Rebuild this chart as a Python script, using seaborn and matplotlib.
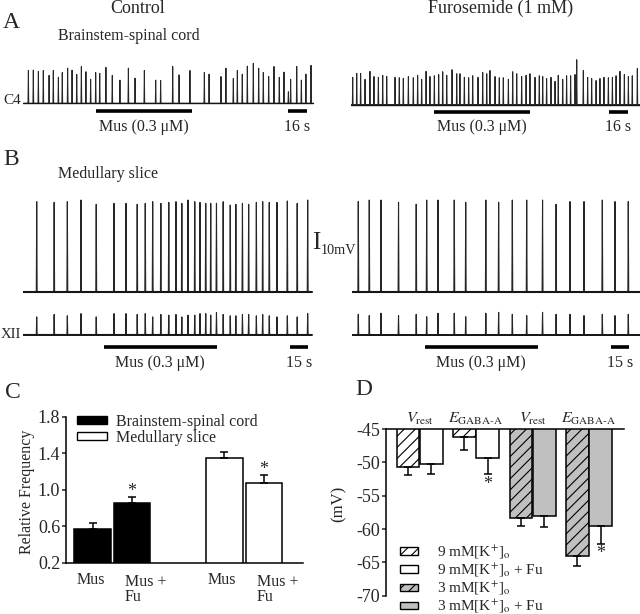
import numpy as np
import pandas as pd
import matplotlib
import matplotlib.pyplot as plt
import seaborn as sns
from matplotlib.patches import Patch

matplotlib.use('Agg')

# ---------------- data ----------------
# A: C4 bursts, brainstem-spinal cord (times in s, amplitude relative)
a_ctrl_t = [4.4, 8.7, 13.1, 17.4, 22.4, 26.1, 30.5, 33.9, 38.6, 42.4,
            46.5, 50.5, 54.5, 58.6, 63.0, 66.5, 71.9, 77.4, 84.1, 91.4,
            97.2, 105.3, 115.2, 119.5, 130.0, 135.5, 145.0, 157.5, 161.6, 172.0,
            176.3, 182.7, 186.2, 190.5, 194.9, 200.1, 204.8, 208.8, 213.5, 218.1,
            222.7, 226.8, 230.6, 232.6, 237.9, 241.9, 245.9, 250.3]
a_ctrl_amp = [0.82, 0.83, 0.80, 0.82, 0.70, 0.82, 0.65, 0.77, 0.88, 0.83,
              0.72, 0.92, 0.79, 0.60, 0.77, 0.75, 0.90, 0.70, 0.58, 0.88,
              0.63, 0.82, 0.58, 0.57, 0.92, 0.71, 0.82, 0.77, 0.73, 0.67,
              0.88, 0.62, 0.82, 0.73, 0.93, 1.00, 0.88, 0.77, 0.67, 0.92,
              0.65, 0.78, 0.29, 0.60, 0.92, 0.58, 0.73, 0.95]
a_furo_t = [1.5, 5.0, 8.4, 12.2, 16.5, 20.0, 23.8, 27.6, 31.1, 38.3,
            42.0, 45.5, 49.9, 54.2, 58.0, 61.5, 65.3, 68.7, 72.5, 76.3,
            79.8, 83.3, 87.9, 92.0, 94.8, 98.6, 102.4, 105.9, 110.5, 114.6,
            118.1, 120.9, 125.3, 129.0, 132.5, 136.9, 140.7, 144.2, 148.5, 152.3,
            155.7, 160.1, 163.8, 166.8, 170.2, 174.0, 177.5, 180.3, 184.2, 187.6,
            191.1, 194.9, 196.4, 202.1, 205.9, 209.4, 213.2, 216.6, 220.1, 223.9,
            227.4, 230.6, 234.0, 237.8, 241.3, 244.7, 249.1]
a_furo_amp = [0.68, 0.78, 0.78, 0.63, 0.83, 0.70, 0.68, 0.73, 0.70, 0.68,
              0.67, 0.65, 0.70, 0.67, 0.73, 0.63, 0.83, 0.70, 0.72, 0.75,
              0.82, 0.73, 0.87, 0.77, 0.77, 0.68, 0.67, 0.72, 0.68, 0.80,
              0.77, 0.85, 0.70, 0.67, 0.67, 0.63, 0.82, 0.77, 0.70, 0.73,
              0.77, 0.68, 0.72, 0.70, 0.65, 0.68, 0.58, 0.73, 0.63, 0.72,
              0.72, 0.75, 1.12, 0.85, 0.68, 0.65, 0.60, 0.65, 0.68, 0.67,
              0.68, 0.72, 0.83, 0.75, 0.70, 0.72, 0.90]
a_duration = [252.0, 251.4]
a_mus = [(63.0, 147.0), (72.5, 155.7)]
a_scale = [(230.6, 16), (224.7, 16)]

# B: medullary slice, membrane potential (mV) and XII output (relative)
b_ctrl_t = [11.0, 25.3, 36.1, 47.3, 59.8, 74.4, 84.2, 93.4, 100.0, 106.1,
            112.8, 119.3, 125.2, 130.0, 135.1, 140.6, 144.9, 149.6, 153.7, 158.4,
            163.9, 169.7, 174.3, 179.7, 184.8, 191.1, 196.3, 201.7, 208.0, 216.5,
            224.6, 233.2]
b_ctrl_mv = [64.3, 63.8, 64.3, 65.5, 62.4, 63.1, 63.1, 62.4, 63.1, 64.3,
             63.1, 63.8, 64.3, 63.1, 65.5, 64.3, 63.8, 63.1, 63.1, 63.1,
             64.3, 61.9, 62.4, 63.1, 62.4, 63.8, 64.3, 63.8, 63.8, 64.8,
             63.1, 65.5]
b_ctrl_xii = [0.80, 0.91, 0.85, 0.95, 0.80, 0.95, 0.95, 0.91, 0.95, 0.80,
              0.91, 0.88, 0.91, 0.80, 0.88, 0.88, 0.95, 0.95, 0.88, 1.00,
              0.91, 0.85, 0.85, 0.91, 0.91, 0.85, 0.91, 0.85, 0.80, 0.85,
              0.80, 0.95]
b_furo_t = [5.4, 14.4, 24.0, 38.4, 52.9, 61.5, 70.8, 84.1, 93.5, 110.0,
            120.5, 131.7, 143.5, 156.5, 167.6, 179.0, 190.5, 205.5, 215.9, 226.8]
b_furo_mv = [64.8, 65.9, 65.9, 64.3, 62.9, 65.9, 65.9, 65.9, 64.3, 65.9,
             64.3, 65.9, 65.9, 65.9, 62.9, 64.8, 64.8, 65.9, 64.8, 64.8]
b_furo_xii = [0.94, 0.88, 0.99, 0.88, 0.94, 0.83, 0.99, 0.99, 0.83, 0.99,
              1.03, 0.94, 0.88, 1.03, 0.94, 0.94, 0.88, 0.94, 0.88, 0.94]
b_duration = [236.5, 236.4]
b_mus = [(66.2, 158.6), (60.1, 152.5)]
b_scale = [(218.7, 15), (212.6, 15)]

# C: relative burst frequency
c_label = ['Mus', 'Mus +\nFu', 'Mus', 'Mus +\nFu']
c_prep = ['Brainstem-spinal cord', 'Brainstem-spinal cord', 'Medullary slice', 'Medullary slice']
c_freq = [0.565, 0.85, 1.351, 1.069]
c_sem = [0.066, 0.073, 0.062, 0.092]
c_sig = [False, True, False, True]

# D: Vrest and EGABA-A (mV)
V_REST = r'$V_{\mathrm{rest}}$'
E_GABA = r'$E_{\mathrm{GABA\text{-}A}}$'
K9 = r'9 mM[K$^{+}$]$_{\mathrm{o}}$'
K9FU = K9 + ' + Fu'
K3 = r'3 mM[K$^{+}$]$_{\mathrm{o}}$'
K3FU = K3 + ' + Fu'
d_group = [V_REST, V_REST, E_GABA, E_GABA, V_REST, V_REST, E_GABA, E_GABA]
d_cond = [K9, K9FU, K9, K9FU, K3, K3FU, K3, K3FU]
d_mv = [-50.75, -50.25, -46.15, -49.4, -58.3, -58.05, -64.05, -59.55]
d_sem = [1.15, 1.5, 2.0, 2.4, 1.25, 1.7, 1.5, 2.7]
d_sig = [False, False, False, True, False, False, False, True]
d_ticks = [-45, -50, -55, -60, -65, -70]

# ---------------- layout ----------------
W, H = 640, 614
c_pos = np.array([0.0, 1.0, 3.34, 4.34])
d_pos = np.array([0.0, 1.0, 2.43, 3.43, 4.87, 5.87, 7.3, 8.3])

sns.set_style('ticks')
plt.rcParams['font.family'] = ['Liberation Serif', 'DejaVu Serif']
plt.rcParams['mathtext.fontset'] = 'stix'
plt.rcParams['axes.unicode_minus'] = False
plt.rcParams['hatch.linewidth'] = 0.8

fig = plt.figure(figsize=(6.4, 6.14), dpi=100)


def px_axes(x0, y0, x1, y1):
    return fig.add_axes([x0 / W, 1 - y1 / H, (x1 - x0) / W, (y1 - y0) / H])


def ftext(x, y, s, **kw):
    fig.text(x / W, 1 - y / H, s, **kw)


def spike_trace(times, amps, duration, half=0.35):
    x, y = [0.0], [0.0]
    for t, a in zip(times, amps):
        x += [t - half, t, t + half]
        y += [0.0, a, 0.0]
    x.append(duration)
    y.append(0.0)
    return pd.DataFrame({'t': x, 'v': y})


def draw_trace(left, base, top, bottom, width, s_per_px, unit_px, times, amps, duration,
               lw=0.7, base_lw=1.0):
    ax = px_axes(left, top, left + width, bottom)
    df = spike_trace(times, amps, duration)
    sns.lineplot(data=df, x='t', y='v', estimator=None, sort=False,
                 color='#262626', lw=lw, ax=ax)
    ax.plot([0, duration], [0, 0], color='#151515', lw=base_lw)
    ax.set_xlim(0, width * s_per_px)
    ax.set_ylim(-(bottom - base) / unit_px, (base - top) / unit_px)
    ax.axis('off')
    return ax


def mus_and_scale(ax, mus, scale, y, text_drop):
    ax.plot(list(mus), [y, y], color='black', lw=2.6, solid_capstyle='butt')
    ax.plot([scale[0], scale[0] + scale[1]], [y, y], color='black', lw=2.6, solid_capstyle='butt')
    ax.annotate('Mus (0.3 \u03bcM)', xy=(sum(mus) / 2, y), xytext=(0, -text_drop),
                textcoords='offset points', ha='center', va='baseline', fontsize=11.5)
    ax.annotate('%d s' % scale[1], xy=(scale[0] + scale[1] / 2, y), xytext=(0, -text_drop),
                textcoords='offset points', ha='center', va='baseline', fontsize=11.5)


# ---------------- panel A ----------------
ax = draw_trace(23.3, 103.3, 55, 140, 292, 0.87, 40, a_ctrl_t, a_ctrl_amp, a_duration[0])
mus_and_scale(ax, a_mus[0], a_scale[0], -8 / 40, 14)
ax = draw_trace(351, 104.5, 55, 140, 289, 0.87, 40, a_furo_t, a_furo_amp, a_duration[1])
mus_and_scale(ax, a_mus[1], a_scale[1], -7.5 / 40, 13.6)

ftext(3, 28.3, 'A', fontsize=17, va='baseline')
ftext(138, 13.3, 'Control', fontsize=13, ha='center', va='baseline')
ftext(501, 13.3, 'Furosemide (1 mM)', fontsize=13, ha='center', va='baseline')
ftext(57.7, 40.5, 'Brainstem-spinal cord', fontsize=11.5, va='baseline')
ftext(21, 103.5, 'C4', fontsize=11, ha='right', va='baseline')

# ---------------- panel B ----------------
draw_trace(23.3, 291.7, 195, 300, 290, 0.82, 1.4, b_ctrl_t, b_ctrl_mv, b_duration[0],
           lw=0.8, base_lw=1.5)
ax = draw_trace(23.3, 334.5, 305, 375, 290, 0.82, 22, b_ctrl_t, b_ctrl_xii, b_duration[0],
                lw=0.8, base_lw=1.4)
mus_and_scale(ax, b_mus[0], b_scale[0], -12.3 / 22, 14.4)
draw_trace(351.7, 292.3, 195, 300, 289, 0.82, 1.4, b_furo_t, b_furo_mv, b_duration[1],
           lw=0.8, base_lw=1.5)
ax = draw_trace(351.7, 335, 305, 375, 289, 0.82, 22, b_furo_t, b_furo_xii, b_duration[1],
                lw=0.8, base_lw=1.4)
mus_and_scale(ax, b_mus[1], b_scale[1], -12.3 / 22, 14.4)

ftext(3, 165, 'B', fontsize=17, va='baseline')
ftext(57.7, 177.7, 'Medullary slice', fontsize=11.5, va='baseline')
ftext(21.5, 338.5, 'XII', fontsize=10.5, ha='right', va='baseline')
ftext(316, 243, 'I', fontsize=18, ha='center', va='center')
ftext(320.5, 254.3, '10mV', fontsize=10.3, ha='left', va='baseline')

# ---------------- panel C ----------------
axc = px_axes(65.7, 416.7, 303, 562.7)
df_c = pd.DataFrame({'pos': c_pos, 'freq': c_freq, 'prep': c_prep})
sns.barplot(data=df_c, x='pos', y='freq', hue='prep', native_scale=True, dodge=False,
            width=0.93, palette={'Brainstem-spinal cord': 'black', 'Medullary slice': 'white'},
            edgecolor='black', linewidth=1.1, errorbar=None, legend=False, ax=axc)
axc.errorbar(c_pos, c_freq, yerr=[np.zeros(len(c_freq)), c_sem], fmt='none',
             ecolor='black', elinewidth=1.1, capsize=2.6, capthick=1.1)
for p, f, s, sig in zip(c_pos, c_freq, c_sem, c_sig):
    if sig:
        axc.annotate('*', xy=(p, f + s), xytext=(0, -2.5), textcoords='offset points',
                     ha='center', va='bottom', fontsize=13)
for p, lab in zip(c_pos, c_label):
    if '\n' in lab:
        # baseline of the last line
        axc.annotate(lab, xy=(p, 0.2), xytext=(-5.2, -27.3), textcoords='offset points',
                     ha='left', va='baseline', fontsize=11.5, linespacing=0.9,
                     annotation_clip=False)
    else:
        axc.annotate(lab, xy=(p, 0.2), xytext=(-1.5, -15.3), textcoords='offset points',
                     ha='center', va='baseline', fontsize=11.5, annotation_clip=False)
axc.set_xlim(-0.68, 5.33)
axc.set_ylim(0.2, 1.8)
axc.set_yticks([0.2, 0.6, 1.0, 1.4, 1.8])
axc.set_yticklabels(['0.2', '0.6', '1.0', '1.4', '1.8'])
axc.set_xticks([])
axc.set_xlabel('')
axc.set_ylabel('')
axc.tick_params(axis='y', direction='out', length=3, width=1.1, labelsize=13, pad=1)
for side in ['top', 'right']:
    axc.spines[side].set_visible(False)
for side in ['left', 'bottom']:
    axc.spines[side].set_linewidth(1.1)
    axc.spines[side].set_color('black')
c_handles = [Patch(facecolor='black', edgecolor='black', label='Brainstem-spinal cord'),
             Patch(facecolor='white', edgecolor='black', label='Medullary slice')]
fig.legend(handles=c_handles, loc='upper left', bbox_to_anchor=(76.7 / W, 1 - 414 / H),
           frameon=False, borderpad=0, borderaxespad=0, handlelength=1.9, handleheight=0.4,
           handletextpad=0.55, labelspacing=0.0, fontsize=11.5)
ftext(26.7, 491.7, 'Relative Frequency', fontsize=11.5, rotation=90, ha='center', va='center')
ftext(5, 398, 'C', fontsize=17, va='baseline')

# ---------------- panel D ----------------
axd = px_axes(385.7, 429, 624, 595.7)
df_d = pd.DataFrame({'pos': d_pos, 'mv': d_mv, 'cond': d_cond})
sns.barplot(data=df_d, x='pos', y='mv', hue='cond', hue_order=[K9, K9FU, K3, K3FU],
            native_scale=True, dodge=False, width=0.98,
            palette={K9: 'white', K9FU: 'white', K3: '#c0c0c0', K3FU: '#c0c0c0'},
            edgecolor='black', linewidth=1.1, errorbar=None, legend=False, ax=axd)
for bar in axd.patches:
    i = int(np.argmin(np.abs(d_pos - (bar.get_x() + bar.get_width() / 2))))
    if 'Fu' not in d_cond[i]:
        bar.set_hatch('///')
axd.errorbar(d_pos, d_mv, yerr=[d_sem, np.zeros(len(d_mv))], fmt='none',
             ecolor='black', elinewidth=1.1, capsize=2.6, capthick=1.1)
for p, v, s, sig in zip(d_pos, d_mv, d_sem, d_sig):
    if sig:
        axd.annotate('*', xy=(p, v - s), xytext=(0, -1), textcoords='offset points',
                     ha='center', va='top', fontsize=13)
for k in range(0, len(d_group), 2):
    axd.annotate(d_group[k], xy=((d_pos[k] + d_pos[k + 1]) / 2, -45), xytext=(0, 1.5),
                 textcoords='offset points', ha='center', va='bottom', fontsize=11.5,
                 annotation_clip=False)
axd.set_xlim(-0.96, 9.31)
axd.set_ylim(-70, -45)
axd.set_yticks(d_ticks)
axd.set_yticklabels([str(v) for v in d_ticks])
axd.set_xticks([])
axd.set_xlabel('')
axd.set_ylabel('')
axd.tick_params(axis='y', direction='out', length=3, width=1.1, labelsize=13, pad=1)
for side in ['bottom', 'right']:
    axd.spines[side].set_visible(False)
for side in ['left', 'top']:
    axd.spines[side].set_visible(True)
    axd.spines[side].set_linewidth(1.1)
    axd.spines[side].set_color('black')
d_handles = [Patch(facecolor='white', edgecolor='black', hatch='///', label=K9),
             Patch(facecolor='white', edgecolor='black', label=K9FU),
             Patch(facecolor='#c0c0c0', edgecolor='black', hatch='///', label=K3),
             Patch(facecolor='#c0c0c0', edgecolor='black', label=K3FU)]
fig.legend(handles=d_handles, loc='upper left', bbox_to_anchor=(400 / W, 1 - 544 / H),
           frameon=False, borderpad=0, borderaxespad=0, handlelength=1.2, handleheight=0.4,
           handletextpad=1.2, labelspacing=0.05, fontsize=11)
ftext(339, 504, '(mV)', fontsize=12, rotation=90, ha='center', va='center')
ftext(355, 395, 'D', fontsize=17, va='baseline')

plt.savefig('out.png', dpi=100)
